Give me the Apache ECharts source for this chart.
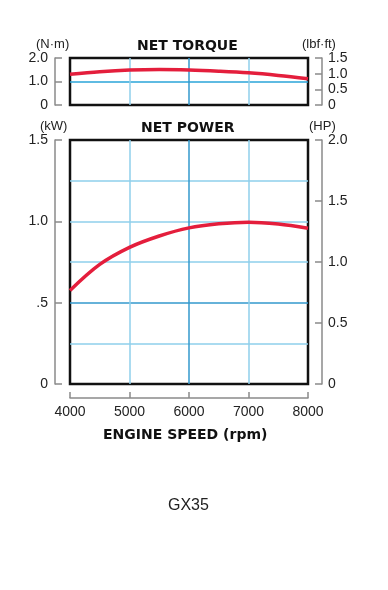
<!DOCTYPE html>
<html>
<head>
<meta charset="utf-8">
<script src="https://cdn.jsdelivr.net/npm/echarts@6/dist/echarts.min.js"></script>
<style>
html,body{margin:0;padding:0;background:#fff;}
#c{width:388px;height:590px;}
</style>
</head>
<body>
<div id="c"></div>
<script>
// Data
const rpm = [4000, 4500, 5000, 5500, 6000, 6500, 7000, 7500, 8000];
const torqueNm = [1.31, 1.42, 1.49, 1.51, 1.49, 1.44, 1.37, 1.26, 1.12];
const powerKw = [0.575, 0.735, 0.84, 0.91, 0.96, 0.985, 0.995, 0.983, 0.957];
const xTicks = [4000, 5000, 6000, 7000, 8000];
const titleTorque = 'NET TORQUE';
const titlePower = 'NET POWER';
const xTitle = 'ENGINE SPEED (rpm)';
const model = 'GX35';

const LIGHT = '#8fcfeb';
const DARK = '#3399cc';
const MID = '#2aa5d8';
const GRAY = '#8a8a8a';
const numFont = 'Liberation Sans';

function lab(v) {
  if (v === 0) return '0';
  return v.toFixed(1);
}

const chart = echarts.init(document.getElementById('c'), null, {renderer: 'canvas'});

const yLeftCommon = {
  position: 'left', offset: 15,
  axisLine: {show: true, onZero: false, lineStyle: {color: GRAY, width: 1.5}},
  axisTick: {show: true, inside: true, length: 7, lineStyle: {color: GRAY, width: 1.5}},
  axisLabel: {margin: 7, color: '#222', fontSize: 14, fontFamily: numFont}
};
const yRightCommon = {
  position: 'right', offset: 14,
  axisLine: {show: true, onZero: false, lineStyle: {color: GRAY, width: 1.5}},
  axisTick: {show: true, inside: true, length: 7, lineStyle: {color: GRAY, width: 1.5}},
  axisLabel: {margin: 6, color: '#222', fontSize: 14, fontFamily: numFont},
  splitLine: {show: false}
};

const option = {
  backgroundColor: '#fff',
  animation: false,
  grid: [
    {left: 70, right: 80, top: 58, height: 47, show: true, borderColor: '#111', borderWidth: 2.5, backgroundColor: 'transparent'},
    {left: 70, right: 80, top: 140, height: 244, show: true, borderColor: '#111', borderWidth: 2.5, backgroundColor: 'transparent'}
  ],
  xAxis: [
    {
      gridIndex: 0, type: 'value', min: 4000, max: 8000, interval: 1000,
      axisLine: {show: false, onZero: false}, axisTick: {show: false}, axisLabel: {show: false},
      splitLine: {show: true, showMinLine: false, showMaxLine: false,
        lineStyle: {color: [LIGHT, DARK, LIGHT], width: 1.5}}
    },
    {
      gridIndex: 1, type: 'value', min: 4000, max: 8000, interval: 1000,
      position: 'bottom', offset: 14,
      axisLine: {show: true, onZero: false, lineStyle: {color: GRAY, width: 1.5}},
      axisTick: {show: true, inside: true, length: 6, lineStyle: {color: GRAY, width: 1.5}},
      axisLabel: {margin: 7, color: '#222', fontSize: 14, fontFamily: numFont,
        formatter: v => String(v)},
      splitLine: {show: true, showMinLine: false, showMaxLine: false,
        lineStyle: {color: [LIGHT, DARK, LIGHT], width: 1.5}}
    }
  ],
  yAxis: [
    Object.assign({}, yLeftCommon, {
      gridIndex: 0, type: 'value', min: 0, max: 2, interval: 1,
      axisLabel: Object.assign({}, yLeftCommon.axisLabel, {formatter: lab}),
      splitLine: {show: true, showMinLine: false, showMaxLine: false, lineStyle: {color: [MID], width: 1.5}}
    }),
    Object.assign({}, yRightCommon, {
      gridIndex: 0, type: 'value', min: 0, max: 1.5, interval: 0.5,
      axisLabel: Object.assign({}, yRightCommon.axisLabel, {formatter: lab})
    }),
    Object.assign({}, yLeftCommon, {
      gridIndex: 1, type: 'value', min: 0, max: 1.5, interval: 0.5,
      axisLabel: Object.assign({}, yLeftCommon.axisLabel, {formatter: v => v === 0 ? '0' : (v === 0.5 ? '.5' : v.toFixed(1))}),
      splitLine: {show: true, showMinLine: false, showMaxLine: false, lineStyle: {color: [DARK, LIGHT], width: 1.5}},
      minorTick: {show: false, splitNumber: 2},
      minorSplitLine: {show: true, lineStyle: {color: LIGHT, width: 1.5}}
    }),
    Object.assign({}, yRightCommon, {
      gridIndex: 1, type: 'value', min: 0, max: 2, interval: 0.5,
      axisLabel: Object.assign({}, yRightCommon.axisLabel, {formatter: lab})
    })
  ],
  series: [
    {
      type: 'line', xAxisIndex: 0, yAxisIndex: 0, smooth: 0.35, showSymbol: false,
      data: rpm.map((r, i) => [r, torqueNm[i]]),
      lineStyle: {color: '#e41e3c', width: 3.5}, z: 5
    },
    {
      type: 'line', xAxisIndex: 1, yAxisIndex: 2, smooth: 0.35, showSymbol: false,
      data: rpm.map((r, i) => [r, powerKw[i]]),
      lineStyle: {color: '#e41e3c', width: 3.5}, z: 5
    }
  ],
  graphic: [
    {type: 'text', left: 137, top: 39, style: {text: titleTorque, font: 'bold 14px "DejaVu Sans"', fill: '#111'}},
    {type: 'text', left: 141, top: 121, style: {text: titlePower, font: 'bold 14px "DejaVu Sans"', fill: '#111'}},
    {type: 'text', left: 103, top: 428, style: {text: xTitle, font: 'bold 14px "DejaVu Sans"', fill: '#111'}},
    {type: 'text', left: 36, top: 38, style: {text: '(N·m)', font: '13px "Liberation Sans"', fill: '#222'}},
    {type: 'text', left: 302, top: 38, style: {text: '(lbf·ft)', font: '13px "Liberation Sans"', fill: '#222'}},
    {type: 'text', left: 40, top: 120, style: {text: '(kW)', font: '13px "Liberation Sans"', fill: '#222'}},
    {type: 'text', left: 309, top: 120, style: {text: '(HP)', font: '13px "Liberation Sans"', fill: '#222'}},
    {type: 'text', left: 168, top: 498, style: {text: model, font: '16px "Liberation Sans"', fill: '#222'}}
  ]
};
chart.setOption(option);
</script>
</body>
</html>
